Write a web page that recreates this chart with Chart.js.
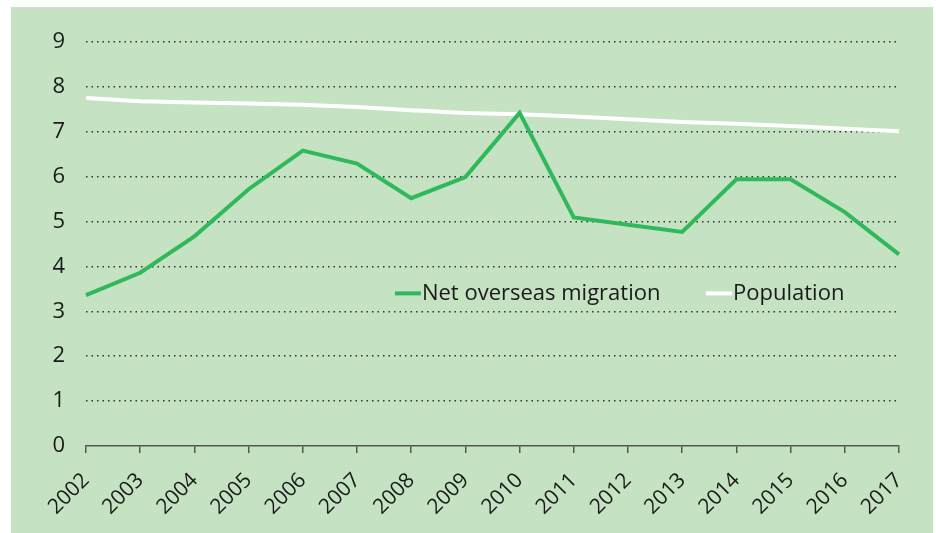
<!DOCTYPE html>
<html>
<head>
<meta charset="utf-8">
<script src="https://cdn.jsdelivr.net/npm/chart.js@4/dist/chart.umd.min.js"></script>
<style>
  html, body { margin: 0; padding: 0; background: #ffffff; width: 936px; height: 533px; overflow: hidden; }
  #wrap { position: absolute; left: 11px; top: 7px; width: 922px; height: 526px; background: #c5e2c3; }
  canvas { display: block; }
</style>
</head>
<body>
<div id="wrap"><canvas id="c" width="922" height="526"></canvas></div>
<script>
const years = ['2002','2003','2004','2005','2006','2007','2008','2009','2010','2011','2012','2013','2014','2015','2016','2017'];
const netOverseasMigration = [3.36, 3.86, 4.67, 5.72, 6.58, 6.29, 5.52, 5.99, 7.42, 5.09, 4.93, 4.77, 5.94, 5.94, 5.21, 4.27];
const population = [7.75, 7.68, 7.65, 7.63, 7.60, 7.55, 7.48, 7.42, 7.39, 7.34, 7.28, 7.22, 7.18, 7.13, 7.07, 7.01];
const yTicks = [0, 1, 2, 3, 4, 5, 6, 7, 8, 9];
const seriesNames = ['Net overseas migration', 'Population'];

const FONT = "'Open Sans', 'Noto Sans', sans-serif";

const legendInside = {
  id: 'legendInside',
  afterDatasetsDraw(chart) {
    const ctx = chart.ctx;
    const y = chart.scales.y.getPixelForValue(3.40);
    const positions = [chart.scales.x.getPixelForValue(5.70), chart.scales.x.getPixelForValue(11.44)];
    ctx.save();
    ctx.font = "22px " + FONT;
    ctx.textBaseline = 'middle';
    chart.data.datasets.forEach((ds, i) => {
      const x0 = positions[i];
      ctx.strokeStyle = ds.borderColor;
      ctx.lineWidth = 4;
      ctx.beginPath();
      ctx.moveTo(x0, y);
      ctx.lineTo(x0 + 26, y);
      ctx.stroke();
      ctx.fillStyle = '#1a1a1a';
      ctx.textAlign = 'left';
      ctx.fillText(ds.label, x0 + 27, y);
    });
    ctx.restore();
  }
};

new Chart(document.getElementById('c'), {
  type: 'line',
  data: {
    labels: years,
    datasets: [
      { label: seriesNames[0], data: netOverseasMigration, borderColor: '#2fb95a', borderWidth: 4, pointRadius: 0, tension: 0, fill: false },
      { label: seriesNames[1], data: population, borderColor: '#ffffff', borderWidth: 4, pointRadius: 0, tension: 0, fill: false }
    ]
  },
  options: {
    responsive: false,
    animation: false,
    layout: { padding: { top: 35, right: 34, left: 0, bottom: 0 } },
    plugins: { legend: { display: false }, tooltip: { enabled: false } },
    scales: {
      x: {
        grid: { display: true, drawOnChartArea: false, drawTicks: true, tickLength: 7, color: '#555555', lineWidth: 1.5 },
        border: { display: true, color: '#555555', width: 1.5 },
        ticks: { color: '#1a1a1a', font: { family: FONT, size: 21 }, maxRotation: 45, minRotation: 45, padding: 15, autoSkip: false },
        afterFit(scale) { scale.height = 87; }
      },
      y: {
        min: 0, max: 9,
        afterBuildTicks(scale) { scale.ticks = yTicks.map(v => ({ value: v })); },
        grid: {
          color: (ctx) => ctx.tick && ctx.tick.value === 0 ? 'rgba(0,0,0,0)' : '#333333',
          lineWidth: 1.5, drawTicks: false
        },
        border: { display: false, dash: [1.5, 4] },
        ticks: { color: '#1a1a1a', font: { family: FONT, size: 22 }, padding: 21 },
        afterFit(scale) { scale.width = 75; }
      }
    }
  },
  plugins: [legendInside]
});
</script>
</body>
</html>
